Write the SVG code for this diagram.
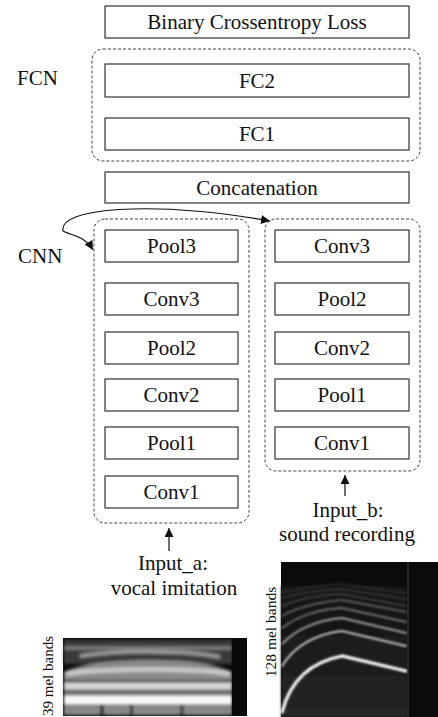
<svg xmlns="http://www.w3.org/2000/svg" width="438" height="717" viewBox="0 0 438 717">
<style>
.box{fill:#fff;stroke:#333;stroke-width:1.2}
.grp{fill:none;stroke:#444;stroke-width:1;stroke-dasharray:3 2}
.t{font-family:"Liberation Serif","Times New Roman",serif;font-size:21px;fill:#111;text-anchor:middle}
.lab{font-family:"Liberation Serif","Times New Roman",serif;font-size:21px;fill:#111}
.rot{font-family:"Liberation Serif","Times New Roman",serif;font-size:15.5px;fill:#111;text-anchor:middle}
.conn{fill:none;stroke:#111;stroke-width:1.2}
</style>
<defs>
<marker id="ah" viewBox="0 0 10 10" refX="10" refY="5" markerWidth="9" markerHeight="9" markerUnits="userSpaceOnUse" orient="auto">
<path d="M0,0 L10,5 L0,10 Z" fill="#111"/>
</marker>
<filter id="bl" x="-10%" y="-10%" width="120%" height="120%"><feGaussianBlur stdDeviation="1"/></filter>
<filter id="bl2" x="-10%" y="-10%" width="120%" height="120%"><feGaussianBlur stdDeviation="1.6"/></filter>
<linearGradient id="noise" x1="0" y1="0" x2="0" y2="1">
<stop offset="0" stop-color="#121212"/>
<stop offset="1" stop-color="#262626"/>
</linearGradient>
</defs>

<g id="groups">
<rect id="fcn-group" class="grp" x="92" y="49" width="328" height="112" rx="11"/>
<rect id="cnn-a-group" class="grp" x="94" y="219" width="155" height="304" rx="11"/>
<rect id="cnn-b-group" class="grp" x="265" y="219" width="155" height="252" rx="11"/>
</g>

<g id="loss"><rect class="box" x="105" y="6" width="304" height="32"/><text class="t" x="257" y="29">Binary Crossentropy Loss</text></g>
<g id="fc2"><rect class="box" x="105" y="64" width="304" height="33"/><text class="t" x="257" y="88">FC2</text></g>
<g id="fc1"><rect class="box" x="105" y="118" width="304" height="32"/><text class="t" x="257" y="141">FC1</text></g>
<g id="concat"><rect class="box" x="105" y="172" width="304" height="31"/><text class="t" x="257" y="195">Concatenation</text></g>

<g id="a-pool3"><rect class="box" x="105" y="230" width="133" height="32"/><text class="t" x="171.5" y="253">Pool3</text></g>
<g id="a-conv3"><rect class="box" x="105" y="283" width="133" height="32"/><text class="t" x="171.5" y="306">Conv3</text></g>
<g id="a-pool2"><rect class="box" x="105" y="332" width="133" height="32"/><text class="t" x="171.5" y="355">Pool2</text></g>
<g id="a-conv2"><rect class="box" x="105" y="379" width="133" height="32"/><text class="t" x="171.5" y="402">Conv2</text></g>
<g id="a-pool1"><rect class="box" x="105" y="427" width="133" height="32"/><text class="t" x="171.5" y="450">Pool1</text></g>
<g id="a-conv1"><rect class="box" x="105" y="476" width="133" height="32"/><text class="t" x="171.5" y="499">Conv1</text></g>

<g id="b-conv3"><rect class="box" x="275" y="230" width="134" height="32"/><text class="t" x="342" y="253">Conv3</text></g>
<g id="b-pool2"><rect class="box" x="275" y="283" width="134" height="32"/><text class="t" x="342" y="306">Pool2</text></g>
<g id="b-conv2"><rect class="box" x="275" y="332" width="134" height="32"/><text class="t" x="342" y="355">Conv2</text></g>
<g id="b-pool1"><rect class="box" x="275" y="379" width="134" height="32"/><text class="t" x="342" y="402">Pool1</text></g>
<g id="b-conv1"><rect class="box" x="275" y="427" width="134" height="32"/><text class="t" x="342" y="450">Conv1</text></g>

<g id="labels">
<text class="lab" x="17" y="85">FCN</text>
<text class="lab" x="18" y="263">CNN</text>
<text class="t" x="348" y="517">Input_b:</text>
<text class="t" x="347" y="541">sound recording</text>
<text class="t" x="173" y="570">Input_a:</text>
<text class="t" x="174" y="595">vocal imitation</text>
</g>

<g id="connectors">
<path class="conn" d="M63,231 C58,208 150,200 270,221" marker-end="url(#ah)"/>
<path class="conn" d="M63,231 C72,236 85,236 93,250" marker-end="url(#ah)"/>
<line class="conn" x1="169" y1="551" x2="169" y2="528" marker-end="url(#ah)"/>
<line class="conn" x1="345" y1="496" x2="345" y2="475" marker-end="url(#ah)"/>
</g>

<g id="spectrogram-b">
<rect x="281" y="562" width="157" height="155" fill="#0b0b0b"/>
<rect x="281" y="586" width="126" height="131" fill="url(#noise)" filter="url(#bl)"/>
<g fill="none" stroke="#fff" stroke-linecap="round" filter="url(#bl)">
<path d="M282,592 C300,589 320,585 342,584 L406,593" stroke-width="1" opacity="0.2"/>
<path d="M282,598 C300,593 320,590 342,589 L406,599" stroke-width="1" opacity="0.25"/>
<path d="M282,606 C298,599 320,595 342,594 L406,606" stroke-width="1.2" opacity="0.3"/>
<path d="M282,616 C298,607 320,602 342,600 L406,612" stroke-width="1.3" opacity="0.4"/>
<path d="M282,628 C297,616 320,609 342,608 L406,622" stroke-width="1.5" opacity="0.5"/>
<path d="M282,644 C296,629 318,620 342,618 L406,633" stroke-width="1.8" opacity="0.6"/>
<path d="M282,666 C294,646 316,634 342,631 L406,646" stroke-width="2" opacity="0.75"/>
<path d="M282,712 C290,682 310,662 342,656 L406,671" stroke-width="3.2" opacity="1"/>
</g>
<line x1="408" y1="562" x2="408" y2="717" stroke="#3a3a3a" stroke-width="1.2"/>
</g>

<g id="spectrogram-a">
<rect x="63" y="638" width="184" height="78" fill="#0c0c0c"/>
<g filter="url(#bl2)">
<rect x="64" y="640" width="168" height="24" fill="#3a3a3a"/>
<path d="M64,648 L232,648" stroke="#777" stroke-width="4"/>
<path d="M80,656 C120,650 190,650 220,657" stroke="#999" stroke-width="4" fill="none"/>
<path d="M64,715 L64,672 C80,664 110,660 150,660 C190,660 215,664 232,672 L232,715 Z" fill="#8a8a8a"/>
<path d="M66,674 C100,668 200,668 230,674" stroke="#c8c8c8" stroke-width="5" fill="none"/>
<rect x="64" y="683" width="168" height="6" fill="#d8d8d8"/>
<rect x="64" y="680" width="168" height="2" fill="#444"/>
<rect x="64" y="691" width="168" height="2" fill="#555"/>
<rect x="64" y="696" width="168" height="8" fill="#fafafa"/>
<rect x="64" y="706" width="168" height="9" fill="#888"/>
<rect x="100" y="705" width="4" height="10" fill="#333"/>
<rect x="130" y="704" width="3" height="11" fill="#333"/>
<rect x="180" y="705" width="4" height="10" fill="#444"/>
</g>
<rect x="232" y="638" width="15" height="78" fill="#0a0a0a"/>
</g>

<g id="axis-labels">
<text class="rot" style="font-size:15px" transform="translate(53,676) rotate(-90)">39 mel bands</text>
<text class="rot" transform="translate(276,632) rotate(-90)">128 mel bands</text>
</g>
</svg>
